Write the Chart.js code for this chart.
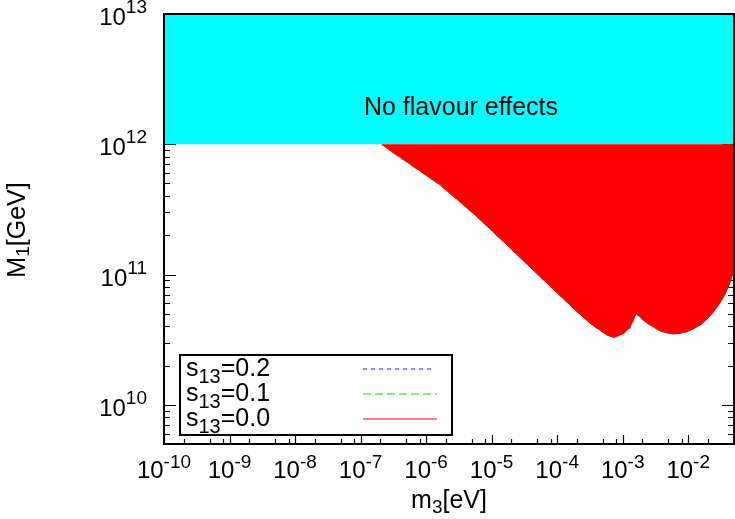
<!DOCTYPE html>
<html>
<head>
<meta charset="utf-8">
<title>M1 vs m3</title>
<script src="https://cdn.jsdelivr.net/npm/chart.js@4.4.0/dist/chart.umd.min.js"></script>
<style>
  html, body { margin: 0; padding: 0; background: #fff; }
  #wrap { position: relative; width: 735px; height: 519px; }
</style>
</head>
<body>
<div id="wrap"><canvas id="chart" width="735" height="519"></canvas></div>
<script>
// lower edge of the region, m3 [eV] -> M1 [GeV]
const m3 = [2.11e-7, 3.16e-7, 5.07e-7, 1.64e-6, 5.27e-6, 1.71e-5, 5.50e-5, 1.77e-4, 3.19e-4, 4.30e-4,
  5.74e-4, 7.24e-4, 8.70e-4, 1.03e-3, 1.17e-3, 1.30e-3, 1.61e-3, 1.85e-3, 2.20e-3, 2.63e-3,
  3.74e-3, 4.70e-3, 5.97e-3, 7.50e-3, 9.55e-3, 1.20e-2, 1.52e-2, 1.95e-2, 2.44e-2, 2.95e-2,
  3.46e-2, 3.90e-2, 4.38e-2, 5.0e-2];
const m1_s00 = [1.0e12, 8.63e11, 7.35e11, 4.88e11, 2.95e11, 1.69e11, 9.64e10, 5.51e10, 4.23e10, 3.80e10,
  3.44e10, 3.30e10, 3.40e10, 3.54e10, 3.76e10, 3.98e10, 5.05e10, 4.70e10, 4.36e10, 4.10e10,
  3.69e10, 3.57e10, 3.50e10, 3.54e10, 3.65e10, 3.83e10, 4.10e10, 4.56e10, 5.19e10, 5.92e10,
  6.76e10, 7.62e10, 8.83e10, 1.10e11];
const m1_s01 = [1.0e12, 8.57e11, 7.29e11, 4.84e11, 2.94e11, 1.69e11, 9.64e10, 5.51e10, 4.23e10, 3.80e10,
  3.44e10, 3.30e10, 3.40e10, 3.54e10, 3.76e10, 3.98e10, 5.05e10, 4.70e10, 4.36e10, 4.10e10,
  3.69e10, 3.57e10, 3.50e10, 3.54e10, 3.65e10, 3.83e10, 4.10e10, 4.56e10, 5.19e10, 5.92e10,
  6.76e10, 7.62e10, 8.83e10, 1.10e11];
const m1_s02 = [1.0e12, 8.63e11, 7.35e11, 4.88e11, 2.95e11, 1.69e11, 9.64e10, 5.51e10, 4.23e10, 3.80e10,
  3.44e10, 3.30e10, 3.40e10, 3.52e10, 3.71e10, 3.91e10, 5.00e10, 4.70e10, 4.36e10, 4.10e10,
  3.69e10, 3.57e10, 3.50e10, 3.54e10, 3.65e10, 3.83e10, 4.10e10, 4.56e10, 5.19e10, 5.92e10,
  6.76e10, 7.62e10, 8.83e10, 1.10e11];

// "no flavour effects" above this mass
const flavourLimit = [1.0e12, 1.0e12];
const flavourM3 = [1e-10, 5.0e-2];

const seriesNames = ['s13=0.2', 's13=0.1', 's13=0.0'];
const xTicks = [1e-10, 1e-9, 1e-8, 1e-7, 1e-6, 1e-5, 1e-4, 1e-3, 1e-2];
const yTicks = [1e10, 1e11, 1e12, 1e13];
const xMinorFactors = [2, 5, 8];
const yMinorFactors = [2, 3, 4, 5, 6, 7, 8, 9];
const xRange = [1e-10, 5.0e-2];
const yRange = [5e9, 1e13];
const regionText = 'No flavour effects';

const FONT = '"Liberation Sans", Arial, Helvetica, sans-serif';
const toPts = (xs, ys) => xs.map((x, i) => ({ x, y: ys[i] }));

// 10^n with a raised exponent
const drawPower = (ctx, v, x, y, align, size, supSize, rise) => {
  const base = '10';
  const sup = String(Math.round(Math.log10(v)));
  ctx.font = `${size}px ${FONT}`;
  const wb = ctx.measureText(base).width;
  ctx.font = `${supSize}px ${FONT}`;
  const ws = ctx.measureText(sup).width;
  const total = wb + ws;
  const left = align === 'center' ? x - total / 2 : x - total;
  ctx.font = `${size}px ${FONT}`;
  ctx.fillText(base, left, y);
  ctx.font = `${supSize}px ${FONT}`;
  ctx.fillText(sup, left + wb, y - rise);
};

// text like "s13=0.2" or "m3[eV]" with the digits after the first letters lowered
const drawSub = (ctx, str, x, y, size, subSize, drop, align) => {
  const m = str.match(/^([^\d]+)(\d+)(.*)$/);
  const parts = m ? [m[1], m[2], m[3]] : [str, '', ''];
  ctx.font = `${size}px ${FONT}`;
  const w0 = ctx.measureText(parts[0]).width;
  const w2 = ctx.measureText(parts[2]).width;
  ctx.font = `${subSize}px ${FONT}`;
  const w1 = ctx.measureText(parts[1]).width;
  let left = align === 'center' ? x - (w0 + w1 + w2) / 2 : x;
  ctx.font = `${size}px ${FONT}`;
  ctx.fillText(parts[0], left, y);
  ctx.font = `${subSize}px ${FONT}`;
  ctx.fillText(parts[1], left + w0, y + drop);
  ctx.font = `${size}px ${FONT}`;
  ctx.fillText(parts[2], left + w0 + w1, y);
};

const framePlugin = {
  id: 'frame',
  beforeDatasetsDraw(chart) {
    const { ctx, chartArea: a, scales: { x, y } } = chart;
    ctx.save();
    ctx.strokeStyle = '#000';
    ctx.lineWidth = 1.2;
    ctx.beginPath();
    const vTick = (v, len) => {
      const p = Math.round(x.getPixelForValue(v)) + 0.5;
      ctx.moveTo(p, a.bottom); ctx.lineTo(p, a.bottom - len);
      ctx.moveTo(p, a.top); ctx.lineTo(p, a.top + len);
    };
    const hTick = (v, len) => {
      const p = Math.round(y.getPixelForValue(v)) + 0.5;
      ctx.moveTo(a.left, p); ctx.lineTo(a.left + len, p);
      ctx.moveTo(a.right, p); ctx.lineTo(a.right - len, p);
    };
    xTicks.forEach(v => {
      vTick(v, 9);
      xMinorFactors.forEach(f => { const m = v * f; if (m < xRange[1]) vTick(m, 5); });
    });
    [1e9].concat(yTicks).forEach(v => {
      if (v >= yRange[0]) hTick(v, 12);
      yMinorFactors.forEach(f => { const m = v * f; if (m > yRange[0] && m < yRange[1]) hTick(m, 6); });
    });
    ctx.stroke();
    ctx.restore();
  },
  afterDatasetsDraw(chart) {
    const { ctx, chartArea: a, scales: { x, y } } = chart;
    ctx.save();
    ctx.strokeStyle = '#000';
    ctx.lineWidth = 2;
    ctx.strokeRect(a.left, a.top, a.right - a.left, a.bottom - a.top);

    ctx.fillStyle = '#000';
    ctx.textAlign = 'left';
    ctx.textBaseline = 'alphabetic';
    xTicks.forEach(v => drawPower(ctx, v, x.getPixelForValue(v), a.bottom + 34, 'center', 24, 19, 10));
    yTicks.forEach(v => drawPower(ctx, v, 147, y.getPixelForValue(v) + 11, 'right', 24, 19, 12));

    // axis titles
    drawSub(ctx, 'm3[eV]', (a.left + a.right) / 2, 508, 25, 19, 5, 'center');
    ctx.save();
    ctx.translate(25, 230);
    ctx.rotate(-Math.PI / 2);
    drawSub(ctx, 'M1[GeV]', 0, 0, 25, 19, 4, 'center');
    ctx.restore();

    // label of the cyan band
    ctx.font = `25px ${FONT}`;
    ctx.textAlign = 'center';
    ctx.fillText(regionText, 461, 115);
    ctx.textAlign = 'left';

    // legend
    ctx.lineWidth = 2;
    ctx.strokeRect(180, 355, 272, 80);
    const legendSets = [2, 1, 0].map(i => chart.data.datasets[i]);
    legendSets.forEach((ds, i) => {
      const base = 376 + i * 25;
      drawSub(ctx, ds.label, 186, base, 25, 20, 7, 'left');
      ctx.save();
      ctx.strokeStyle = ds.borderColor;
      ctx.lineWidth = 1;
      ctx.setLineDash(ds.borderDash || []);
      ctx.beginPath();
      ctx.moveTo(363, base - 7);
      ctx.lineTo(ds.borderDash && ds.borderDash[0] < 6 ? 432 : 437, base - 7);
      ctx.stroke();
      ctx.restore();
    });
    ctx.restore();
  }
};

new Chart(document.getElementById('chart'), {
  type: 'scatter',
  data: {
    datasets: [
      {
        label: seriesNames[2],
        data: toPts(m3, m1_s00),
        showLine: true,
        borderColor: '#ff0000',
        backgroundColor: '#ff0000',
        borderWidth: 1,
        pointRadius: 0,
        fill: { value: 1e12 },
      },
      {
        label: seriesNames[1],
        data: toPts(m3, m1_s01),
        showLine: true,
        borderColor: '#00dd00',
        borderWidth: 1,
        borderDash: [8, 4],
        pointRadius: 0,
        fill: false,
      },
      {
        label: seriesNames[0],
        data: toPts(m3, m1_s02),
        showLine: true,
        borderColor: '#2020ff',
        borderWidth: 1,
        borderDash: [4, 4],
        pointRadius: 0,
        fill: false,
      },
      {
        label: 'flavour',
        data: toPts(flavourM3, flavourLimit),
        showLine: true,
        borderWidth: 0,
        borderColor: '#00ffff',
        backgroundColor: '#00ffff',
        pointRadius: 0,
        fill: 'end',
      },
    ],
  },
  options: {
    responsive: false,
    animation: false,
    devicePixelRatio: 1,
    layout: { padding: { top: 14, right: 1, left: 0, bottom: 0 } },
    plugins: {
      legend: { display: false },
      tooltip: { enabled: false },
      title: { display: false },
    },
    scales: {
      x: {
        type: 'logarithmic',
        min: xRange[0],
        max: xRange[1],
        grid: { display: false },
        border: { display: false },
        ticks: { display: false },
        afterFit: (s) => { s.height = 75; },
      },
      y: {
        type: 'logarithmic',
        min: yRange[0],
        max: yRange[1],
        grid: { display: false },
        border: { display: false },
        ticks: { display: false },
        afterFit: (s) => { s.width = 164; },
      },
    },
  },
  plugins: [framePlugin],
});
</script>
</body>
</html>
